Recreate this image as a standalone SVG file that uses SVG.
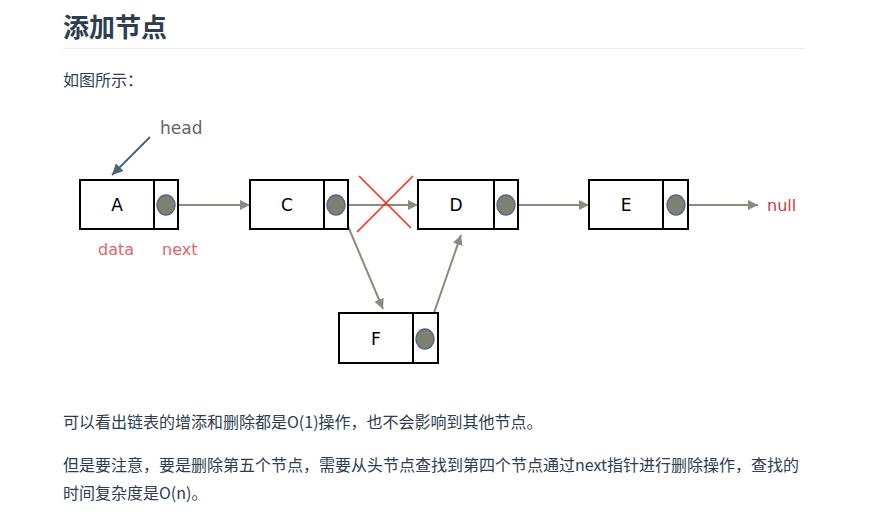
<svg xmlns="http://www.w3.org/2000/svg" width="874" height="526" viewBox="0 0 874 526">
  <defs>
    <marker id="arr" viewBox="0 0 10 10" refX="10" refY="5" markerWidth="10" markerHeight="10" markerUnits="userSpaceOnUse" orient="auto">
      <path d="M0,0 L10,5 L0,10 z" fill="#8a8c7c"/>
    </marker>
    <marker id="arrHead" viewBox="0 0 10 10" refX="10" refY="5" markerWidth="11" markerHeight="11" markerUnits="userSpaceOnUse" orient="auto">
      <path d="M0,0 L10,5 L0,10 z" fill="#4c6579"/>
    </marker>
  </defs>
  <style>
    .cjk { font-family: "Noto Sans CJK SC", "Liberation Sans", sans-serif; fill: #2c3e50; }
    .box { fill: #ffffff; stroke: #000000; stroke-width: 2; }
    .div { stroke: #000000; stroke-width: 2; }
    .dot { fill: #808070; stroke: #4c6a8c; stroke-width: 1.5; }
    .lbl { font-family: "DejaVu Sans", "Liberation Sans", sans-serif; font-size: 17px; fill: #000; text-anchor: middle; }
    .link { stroke: #8a8c7c; stroke-width: 2; fill: none; marker-end: url(#arr); }
    .red { font-family: "DejaVu Sans", "Liberation Sans", sans-serif; font-size: 16px; fill: #e8636a; }
  </style>
  <rect width="874" height="526" fill="#ffffff"/>

  <!-- heading -->
  <text class="cjk" x="63" y="37" font-size="26" font-weight="bold" fill="#273849">添加节点</text>
  <line x1="63" y1="48.5" x2="805" y2="48.5" stroke="#eaecef" stroke-width="1"/>
  <text class="cjk" x="63" y="86" font-size="16">如图所示：</text>

  <!-- connectors -->
  <g id="connectors">
    <line class="link" x1="175" y1="205" x2="250" y2="205"/>
    <line class="link" x1="345" y1="205" x2="418" y2="205"/>
    <line class="link" x1="515" y1="205" x2="589" y2="205"/>
    <line class="link" x1="685" y1="205" x2="758" y2="205"/>
    <line class="link" x1="342" y1="212" x2="383" y2="309"/>
    <line class="link" x1="427" y1="333" x2="461" y2="235"/>
    <line x1="150" y1="137" x2="112" y2="175" stroke="#4c6579" stroke-width="2" marker-end="url(#arrHead)"/>
    <!-- cut link -->
    <line x1="359" y1="176" x2="411" y2="228" stroke="#ff2a1a" stroke-width="1.6"/>
    <line x1="413" y1="176" x2="357" y2="232" stroke="#ff2a1a" stroke-width="1.6"/>
  </g>

  <g id="head">
    <text x="160" y="134" font-family="DejaVu Sans, Liberation Sans, sans-serif" font-size="17" fill="#666666">head</text>
  </g>

  <g id="nodeA">
    <rect class="box" x="80" y="180" width="98" height="49"/>
    <line class="div" x1="154" y1="180" x2="154" y2="229"/>
    <ellipse class="dot" cx="166" cy="205" rx="9" ry="10"/>
    <text class="lbl" x="117" y="211">A</text>
  </g>
  <g id="labels">
    <text class="red" x="98" y="255">data</text>
    <text class="red" x="162" y="255">next</text>
    <text class="red" x="767" y="211" fill="#c8404a" style="fill:#c8404a">null</text>
  </g>

  <g id="nodeC">
    <rect class="box" x="250" y="180" width="98" height="49"/>
    <line class="div" x1="324" y1="180" x2="324" y2="229"/>
    <ellipse class="dot" cx="336" cy="205" rx="9" ry="10"/>
    <text class="lbl" x="287" y="211">C</text>
  </g>

  <g id="nodeD">
    <rect class="box" x="418" y="180" width="100" height="49"/>
    <line class="div" x1="494" y1="180" x2="494" y2="229"/>
    <ellipse class="dot" cx="506" cy="205" rx="9" ry="10"/>
    <text class="lbl" x="456" y="211">D</text>
  </g>

  <g id="nodeE">
    <rect class="box" x="589" y="180" width="99" height="49"/>
    <line class="div" x1="663" y1="180" x2="663" y2="229"/>
    <ellipse class="dot" cx="676" cy="205" rx="9" ry="10"/>
    <text class="lbl" x="626" y="211">E</text>
  </g>

  <g id="nodeF">
    <rect class="box" x="339" y="313" width="99" height="50"/>
    <line class="div" x1="413" y1="313" x2="413" y2="363"/>
    <ellipse class="dot" cx="425" cy="339" rx="9" ry="10"/>
    <text class="lbl" x="376" y="345">F</text>
  </g>

  <!-- body text -->
  <text class="cjk" x="63" y="428" font-size="16">可以看出链表的增添和删除都是O(1)操作，也不会影响到其他节点。</text>
  <text class="cjk" x="63" y="471" font-size="16">但是要注意，要是删除第五个节点，需要从头节点查找到第四个节点通过next指针进行删除操作，查找的</text>
  <text class="cjk" x="63" y="499" font-size="16">时间复杂度是O(n)。</text>
</svg>
